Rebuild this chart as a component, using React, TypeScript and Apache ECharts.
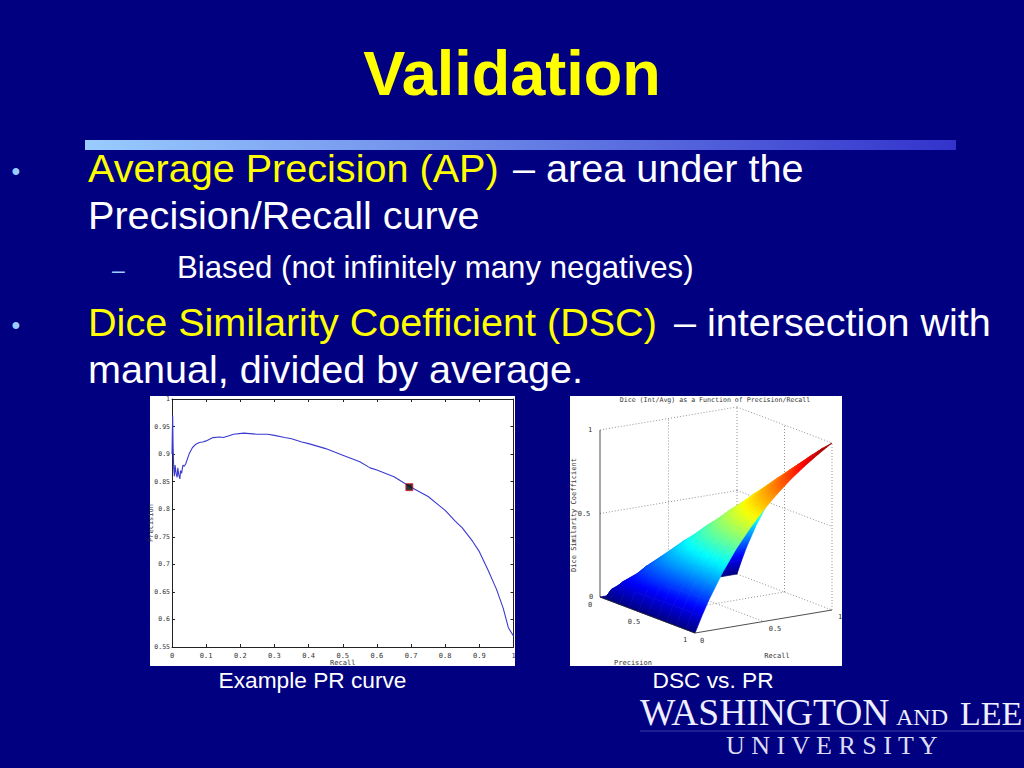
import React, { useEffect, useRef } from "react";
import * as echarts from "echarts";

const titleText = "Validation";
const curveRecall = [0, 0.001, 0.002, 0.003, 0.005, 0.007, 0.009, 0.012, 0.015, 0.017, 0.02, 0.023, 0.025, 0.028, 0.032, 0.036, 0.04, 0.05, 0.06, 0.07, 0.08, 0.09, 0.1, 0.12, 0.14, 0.15, 0.165, 0.18, 0.21, 0.25, 0.28, 0.3, 0.33, 0.35, 0.38, 0.4, 0.45, 0.5, 0.55, 0.58, 0.6, 0.65, 0.7, 0.75, 0.78, 0.8, 0.83, 0.85, 0.88, 0.9, 0.925, 0.95, 0.97, 0.985, 1];
const curvePrecision = [0.9, 0.94, 0.97, 0.92, 0.875, 0.86, 0.88, 0.865, 0.858, 0.875, 0.862, 0.855, 0.87, 0.865, 0.88, 0.878, 0.882, 0.9, 0.912, 0.918, 0.921, 0.922, 0.924, 0.93, 0.931, 0.93, 0.933, 0.936, 0.938, 0.936, 0.936, 0.934, 0.93, 0.928, 0.922, 0.919, 0.91, 0.898, 0.886, 0.875, 0.871, 0.859, 0.84, 0.823, 0.808, 0.798, 0.778, 0.766, 0.742, 0.723, 0.69, 0.655, 0.62, 0.585, 0.57];
const operatingPoint = [0.695, 0.84];

const gridSteps = [0, 0.05, 0.1, 0.2, 0.3, 0.4, 0.5, 0.6, 0.7, 0.8, 0.9, 1];
// Dice value by [recall row][precision column]
const diceRows = [
  [0, 0, 0, 0, 0, 0, 0, 0, 0, 0, 0, 0],
  [0, 0.05, 0.067, 0.08, 0.086, 0.089, 0.091, 0.092, 0.093, 0.094, 0.095, 0.095],
  [0, 0.067, 0.1, 0.133, 0.15, 0.16, 0.167, 0.171, 0.175, 0.178, 0.18, 0.182],
  [0, 0.08, 0.133, 0.2, 0.24, 0.267, 0.286, 0.3, 0.311, 0.32, 0.327, 0.333],
  [0, 0.086, 0.15, 0.24, 0.3, 0.343, 0.375, 0.4, 0.42, 0.436, 0.45, 0.462],
  [0, 0.089, 0.16, 0.267, 0.343, 0.4, 0.444, 0.48, 0.509, 0.533, 0.554, 0.571],
  [0, 0.091, 0.167, 0.286, 0.375, 0.444, 0.5, 0.545, 0.583, 0.615, 0.643, 0.667],
  [0, 0.092, 0.171, 0.3, 0.4, 0.48, 0.545, 0.6, 0.646, 0.686, 0.72, 0.75],
  [0, 0.093, 0.175, 0.311, 0.42, 0.509, 0.583, 0.646, 0.7, 0.747, 0.788, 0.824],
  [0, 0.094, 0.178, 0.32, 0.436, 0.533, 0.615, 0.686, 0.747, 0.8, 0.847, 0.889],
  [0, 0.095, 0.18, 0.327, 0.45, 0.554, 0.643, 0.72, 0.788, 0.847, 0.9, 0.947],
  [0, 0.095, 0.182, 0.333, 0.462, 0.571, 0.667, 0.75, 0.824, 0.889, 0.947, 1],
];
// [precision, recall, dice] end points
const dottedEdges = [
  [[0, 0, 1], [0, 1, 1]], [[0, 1, 1], [1, 1, 1]],
  [[0, 0, 0.5], [0, 1, 0.5]], [[0, 1, 0.5], [1, 1, 0.5]],
  [[0, 0.5, 0], [0, 0.5, 1]], [[0, 1, 0], [0, 1, 1]],
  [[0.5, 1, 0], [0.5, 1, 1]], [[1, 1, 0], [1, 1, 1]],
  [[0, 0.5, 0], [1, 0.5, 0]], [[0.5, 0, 0], [0.5, 1, 0]],
  [[0, 0, 0], [0, 1, 0]], [[0, 1, 0], [1, 1, 0]],
];
const solidEdges = [
  [[0, 0, 0], [0, 0, 1]],
  [[0, 0, 0], [1, 0, 0]],
  [[1, 0, 0], [1, 1, 0]],
];

const NAVY = "#000080";
const YELLOW = "#ffff00";
const WHITE = "#ffffff";
const BULLET = "#99ccff";
const SANS = '"Liberation Sans", Arial, sans-serif';
const SERIF = '"Liberation Serif", serif';
const MONO = '"DejaVu Sans Mono", monospace';
const INK = "#333333";

const project = (p: number, r: number, z: number) => [
  (95 * p + 137 * r) / 232,
  z - (36 * p - 23 * r) / 167,
];

function jet(z: number) {
  const t = Math.max(0, Math.min(1, z));
  const ch = (c: number) => Math.round(255 * Math.max(0, Math.min(1, 1.5 - Math.abs(4 * t - c))));
  return `rgb(${ch(3)},${ch(2)},${ch(1)})`;
}

const cellIndex: number[][] = [];
for (let r = gridSteps.length - 2; r >= 0; r--) {
  for (let p = 0; p < gridSteps.length - 1; p++) cellIndex.push([p, r]);
}

function renderCell(params: any, api: any) {
  const [pi, ri] = cellIndex[params.dataIndex];
  const corners = [
    [pi, ri],
    [pi + 1, ri],
    [pi + 1, ri + 1],
    [pi, ri + 1],
  ];
  const zs = corners.map(([a, b]) => diceRows[b][a]);
  const pts = corners.map(([a, b]) =>
    api.coord(project(gridSteps[a], gridSteps[b], diceRows[b][a]))
  );
  const zMin = Math.min(...zs);
  const zMax = Math.max(...zs);
  const cx = (pts[0][0] + pts[1][0] + pts[2][0] + pts[3][0]) / 4;
  const cy = (pts[0][1] + pts[1][1] + pts[2][1] + pts[3][1]) / 4;
  const zc = (zs[0] + zs[1] + zs[2] + zs[3]) / 4;
  const ax = (pts[1][0] + pts[2][0] - pts[0][0] - pts[3][0]) / 2;
  const ay = (pts[1][1] + pts[2][1] - pts[0][1] - pts[3][1]) / 2;
  const bx = (pts[3][0] + pts[2][0] - pts[0][0] - pts[1][0]) / 2;
  const by = (pts[3][1] + pts[2][1] - pts[0][1] - pts[1][1]) / 2;
  const dza = (zs[1] + zs[2] - zs[0] - zs[3]) / 2;
  const dzb = (zs[3] + zs[2] - zs[0] - zs[1]) / 2;
  const det = ax * by - ay * bx;
  let fill: any = jet(zc);
  if (Math.abs(det) > 1e-3 && zMax - zMin > 1e-4) {
    const gx = (dza * by - dzb * ay) / det;
    const gy = (dzb * ax - dza * bx) / det;
    const g2 = gx * gx + gy * gy;
    const x0 = cx + (gx * (zMin - zc)) / g2;
    const y0 = cy + (gy * (zMin - zc)) / g2;
    const x1 = cx + (gx * (zMax - zc)) / g2;
    const y1 = cy + (gy * (zMax - zc)) / g2;
    const stops = [0, 0.25, 0.5, 0.75, 1].map((o) => ({
      offset: o,
      color: jet(zMin + (zMax - zMin) * o),
    }));
    fill = new echarts.graphic.LinearGradient(x0, y0, x1, y1, stops, true);
  }
  return {
    type: "polygon",
    shape: { points: pts },
    style: { fill, stroke: fill, lineWidth: 0.7 },
  };
}

const edgeRenderer = (edges: number[][][], stroke: string, dash: number[] | null, lineWidth: number) =>
  (params: any, api: any) => {
    const [a, b] = edges[params.dataIndex];
    const s = api.coord(project(a[0], a[1], a[2]));
    const e = api.coord(project(b[0], b[1], b[2]));
    return {
      type: "line",
      shape: { x1: s[0], y1: s[1], x2: e[0], y2: e[1] },
      style: { stroke, lineWidth, lineDash: dash || undefined, fill: null },
    };
  };

// y is the text's baseline; the text box is placed from its top
const txt = (text: string, x: number, baseline: number, fontSize: number, fill: string, extra: any = {}) => ({
  type: "text",
  x,
  y: baseline - fontSize * 0.86,
  z: 5,
  style: {
    text,
    fontSize,
    fill,
    fontFamily: SANS,
    ...extra,
  },
});

const mono = (text: string, x: number, y: number, fontSize = 7, extra: any = {}) =>
  txt(text, x, y, fontSize, INK, { fontFamily: MONO, align: "center", ...extra });

export default function App() {
  const ref = useRef<HTMLDivElement>(null);
  useEffect(() => {
    document.body.style.margin = "0";
    const chart = echarts.init(ref.current!, undefined, { renderer: "svg" });
    const baseTickAxis = {
      min: 0,
      max: 1,
      interval: 0.1,
      axisLine: { show: true, onZero: false, lineStyle: { color: "#222222", width: 1 } },
      axisTick: { show: true, inside: true, length: 3, lineStyle: { color: "#222222", width: 1 } },
      splitLine: { show: false },
    };
    chart.setOption({
      animation: false,
      backgroundColor: NAVY,
      grid: [
        { left: 172, top: 399, width: 341.5, height: 248 },
        { left: 600, top: 430, width: 232, height: 208.75 },
      ],
      xAxis: [
        {
          ...baseTickAxis,
          type: "value",
          gridIndex: 0,
          position: "bottom",
          axisLabel: {
            color: INK,
            fontFamily: MONO,
            fontSize: 7,
            margin: 5,
            formatter: (v: number) => String(+v.toFixed(1)),
          },
          name: "Recall",
          nameLocation: "middle",
          nameMoveOverlap: false,
          nameGap: 12.5,
          nameTextStyle: { color: INK, fontFamily: MONO, fontSize: 7 },
        },
        { ...baseTickAxis, type: "value", gridIndex: 0, position: "top", axisLabel: { show: false } },
        { type: "value", gridIndex: 1, min: 0, max: 1, show: false },
      ],
      yAxis: [
        {
          ...baseTickAxis,
          type: "value",
          gridIndex: 0,
          position: "left",
          min: 0.55,
          max: 1,
          interval: 0.05,
          axisLabel: {
            color: INK,
            fontFamily: MONO,
            fontSize: 6.5,
            margin: 2,
            formatter: (v: number) => String(+v.toFixed(2)),
          },
          name: "Precision",
          nameLocation: "middle",
          nameMoveOverlap: false,
          nameGap: 18,
          nameTextStyle: { color: INK, fontFamily: MONO, fontSize: 7 },
        },
        {
          ...baseTickAxis,
          type: "value",
          gridIndex: 0,
          position: "right",
          min: 0.55,
          max: 1,
          interval: 0.05,
          axisLabel: { show: false },
        },
        { type: "value", gridIndex: 1, min: -0.25, max: 1, show: false },
      ],
      series: [
        {
          type: "line",
          xAxisIndex: 0,
          yAxisIndex: 0,
          showSymbol: false,
          symbol: "none",
          lineStyle: { color: "#3a3ad0", width: 1.1 },
          data: curveRecall.map((r, i) => [r, curvePrecision[i]]),
          z: 3,
        },
        {
          type: "scatter",
          xAxisIndex: 0,
          yAxisIndex: 0,
          symbol: "rect",
          symbolSize: 7,
          itemStyle: { color: "#000000", borderColor: "#e02030", borderWidth: 1 },
          data: [operatingPoint],
          z: 4,
        },
        {
          type: "custom",
          xAxisIndex: 2,
          yAxisIndex: 2,
          renderItem: edgeRenderer(dottedEdges, "#777777", [1, 2], 0.8),
          data: dottedEdges.map((_, i) => [i, 0]),
          z: 2,
        },
        {
          type: "custom",
          xAxisIndex: 2,
          yAxisIndex: 2,
          renderItem: renderCell,
          data: cellIndex,
          z: 3,
        },
        {
          type: "custom",
          xAxisIndex: 2,
          yAxisIndex: 2,
          renderItem: edgeRenderer(solidEdges, "#222222", null, 0.8),
          data: solidEdges.map((_, i) => [i, 0]),
          z: 4,
        },
      ],
      graphic: [
        {
          type: "rect",
          z: 0,
          shape: { x: 85, y: 140, width: 871, height: 10 },
          style: {
            fill: new echarts.graphic.LinearGradient(0, 0, 1, 0, [
              { offset: 0, color: "#99ccff" },
              { offset: 1, color: "#3333cc" },
            ]),
          },
        },
        { type: "rect", z: 0, shape: { x: 150, y: 396, width: 365, height: 270 }, style: { fill: WHITE } },
        { type: "rect", z: 0, shape: { x: 570, y: 396, width: 272, height: 270 }, style: { fill: WHITE } },

        txt(titleText, 512, 96, 63, YELLOW, { fontWeight: "bold", align: "center" }),
        txt("•", 11.5, 180, 25, BULLET),
        txt("Average Precision (AP)", 88, 182, 39.6, YELLOW),
        txt("– area under the", 513, 182, 39.6, WHITE),
        txt("Precision/Recall curve", 88, 229, 39.6, WHITE),
        txt("–", 112, 278.5, 23, BULLET),
        txt("Biased (not infinitely many negatives)", 177, 279, 31.2, WHITE),
        txt("•", 11.5, 334, 25, BULLET),
        txt("Dice Similarity Coefficient (DSC)", 88, 336, 39.6, YELLOW),
        txt("– intersection with", 674, 336, 39.6, WHITE),
        txt("manual, divided by average.", 88, 383, 39.6, WHITE),

        txt("Example PR curve", 312.5, 688, 22.7, WHITE, { align: "center" }),
        txt("DSC vs. PR", 713, 688, 22.7, WHITE, { align: "center" }),

        mono("Dice (Int/Avg) as a Function of Precision/Recall", 715, 402, 6.6),
        {
          type: "text",
          z: 5,
          x: 570,
          y: 515,
          rotation: Math.PI / 2,
          style: {
            text: "Dice Similarity Coefficient",
            fontSize: 7,
            fill: INK,
            fontFamily: MONO,
            align: "center",
          },
        },
        mono("1", 590, 433),
        mono("0.5", 584, 517),
        mono("0", 591, 600),
        mono("0", 590, 608),
        mono("0.5", 634, 625),
        mono("1", 685, 643),
        mono("0", 702, 644),
        mono("0.5", 775, 632),
        mono("1", 840, 620),
        mono("Recall", 777, 659),
        mono("Precision", 633, 666),

        txt("WASHINGTON", 640, 726, 37.5, "#eeeeff", { fontFamily: SERIF }),
        txt("AND", 896, 726, 24, "#eeeeff", { fontFamily: SERIF }),
        txt("LEE", 960, 726, 34, "#eeeeff", { fontFamily: SERIF }),
        {
          type: "line",
          z: 5,
          shape: { x1: 640, y1: 731, x2: 1024, y2: 731 },
          style: { stroke: "#3a3aa8", lineWidth: 1 },
        },
        txt("U N I V E R S I T Y", 726, 755, 26, "#dcdcf4", { fontFamily: SERIF }),
      ],
    });
    return () => chart.dispose();
  }, []);
  return <div ref={ref} style={{ position: "fixed", left: 0, top: 0, width: 1024, height: 768 }} />;
}
